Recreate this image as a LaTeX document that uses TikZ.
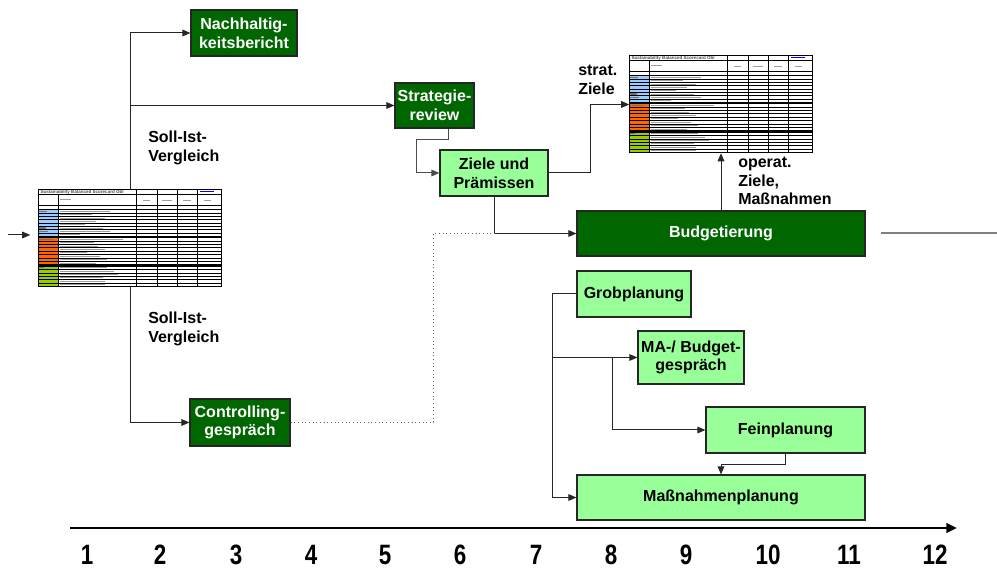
\documentclass[tikz,border=0pt]{standalone}
\usepackage{fontspec}
\setmainfont{Liberation Sans}
\usetikzlibrary{arrows.meta,calc}
\definecolor{dkgreen}{RGB}{0,102,0}
\definecolor{ltgreen}{RGB}{153,255,153}
\definecolor{tblue}{RGB}{153,204,255}
\definecolor{torange}{RGB}{255,102,0}
\definecolor{tgreen}{RGB}{153,204,0}
\tikzset{
 sz/.style 2 args={minimum width={#1*0.75pt}, minimum height={#2*0.75pt}},
 dkbox/.style={draw=black!85, line width=0.9pt, fill=dkgreen, text=white, font=\fontsize{12}{14}\selectfont\bfseries, align=center, inner sep=0pt},
 ltbox/.style={dkbox, fill=ltgreen, text=black},
 conn/.style={line width=0.75pt, draw=black!85, -{Triangle[length=6pt,width=5pt]}},
 lbl/.style={font=\fontsize{12}{14}\selectfont\bfseries, align=left, inner sep=0pt, anchor=west},
 axnum/.style={font=\fontsize{21}{24}\selectfont\bfseries, inner sep=0pt},
 tblframe/.style={inner sep=0pt, draw=none},
 txtbar/.style={draw=black!38, line width=0.8pt}
}
\newcommand\sbtable[1]{%
\begin{scope}[shift={(#1.north west)}]
 \fill[tblue] (0,20) rectangle (20,46.6);
 \fill[torange] (0,48) rectangle (20,75);
 \fill[tgreen] (0,76.5) rectangle (20,96.5);
 \foreach \i in {0,...,8} \draw[line width=0.55pt] (0,{20+\i*3.325}) -- (183,{20+\i*3.325});
 \foreach \i in {0,...,8} \draw[line width=0.55pt] (0,{48+\i*3.375}) -- (183,{48+\i*3.375});
 \foreach \i in {0,...,6} \draw[line width=0.55pt] (0,{76.5+\i*3.333}) -- (183,{76.5+\i*3.333});
 \fill[black] (0,46.6) rectangle (183,47.9);
 \fill[black] (0,75) rectangle (183,76.4);
 \foreach \i/\l in {0/55,1/35,2/50,3/40,4/28,5/48,6/55,7/22}
   \draw[txtbar] (22,{21.7+\i*3.325}) -- ({22+\l*0.9},{21.7+\i*3.325});
 \foreach \i/\l in {0/70,1/38,2/42,3/50,4/30,5/44,6/52,7/40}
   \draw[txtbar] (22,{49.7+\i*3.375}) -- ({22+\l*0.9},{49.7+\i*3.375});
 \foreach \i/\l in {0/52,1/60,2/64,3/48,4/50,5/50}
   \draw[txtbar] (22,{78.2+\i*3.333}) -- ({22+\l*0.9},{78.2+\i*3.333});
 \draw[black!55, line width=0.8pt] (1,21.7) -- (9,21.7) (1,38.3) -- (8,38.3) (1,41.6) -- (10,41.6) (1,49.7) -- (15,49.7) (1,78.2) -- (6,78.2);
 \draw[txtbar] (22,9.5) -- (33,9.5) (105,11) -- (112,11) (124,11) -- (134,11) (145,11) -- (153,11) (166,11) -- (173,11);
 \node[anchor=west, inner sep=0pt, text=black!70, font=\fontsize{3.4}{3.6}\selectfont\bfseries] at (2,2.3) {Sustainability Balanced Scorecard Obl};
 \draw[blue, line width=0.7pt] (162,1.6) -- (176,1.6);
 \draw[line width=0.8pt] (0,4.5) -- (183,4.5) (0,16) -- (183,16) (0,20) -- (183,20);
 \draw[line width=0.8pt] (20,4.5) -- (20,97);
 \foreach \x in {98,119,139,159} \draw[line width=0.9pt] (\x,0) -- (\x,97);
 \draw[line width=0.9pt] (0,0) rectangle (183,97);
\end{scope}}
\begin{document}
\begin{tikzpicture}[x=0.75pt,y=-0.75pt]
\fill[white] (0,0) rectangle (997,570);
\useasboundingbox (0,0) rectangle (997,570);
% tables
\node[tblframe, sz={183}{97}] (tblL) at (130,238.5) {};
\node[tblframe, sz={183}{97}] (tblR) at (721,104.5) {};
\sbtable{tblL}
\sbtable{tblR}
% boxes
\node[dkbox, sz={106}{46}] (nach) at (244,33) {Nachhaltig-\\keitsbericht};
\node[dkbox, sz={79}{45}] (strat) at (434.5,105.5) {Strategie-\\review};
\node[ltbox, sz={108}{46}] (ziele) at (494,173) {Ziele und\\Prämissen};
\node[dkbox, sz={288}{45}] (budget) at (721,233.5) {Budgetierung};
\node[ltbox, sz={114}{46}] (grob) at (634,294) {Grobplanung};
\node[ltbox, sz={106}{53}] (ma) at (691,357.5) {MA-/ Budget-\\gespräch};
\node[ltbox, sz={159}{46}] (fein) at (785.5,430) {Feinplanung};
\node[ltbox, sz={288}{45}] (mass) at (721,497.5) {Maßnahmenplanung};
\node[dkbox, sz={100}{47}] (ctrl) at (240,422.5) {Controlling-\\gespräch};
% labels
\node[lbl] (soll1) at (148,148) {Soll-Ist-\\Vergleich};
\node[lbl] (soll2) at (148,329) {Soll-Ist-\\Vergleich};
\node[lbl] (strz) at (578,80) {strat.\\Ziele};
\node[lbl] (opz) at (738,181) {operat.\\Ziele,\\Maßnahmen};
% connectors
\coordinate (inL) at (8,235);
\draw[conn, shorten >=6pt] (inL) -- (inL -| tblL.west);
\draw[conn] (tblL.north) |- (nach.west);
\draw[conn] (tblL.north |- strat.west) -- (strat.west);
\draw[conn] (tblL.south) |- (ctrl.west);
\draw[conn, draw=black!70] ($(strat.south)+(13.5,0)$) -- ++(0,11) -| ($(ziele.west)+(-23,0)$) -- (ziele.west);
\draw[conn] (ziele.south) |- (budget.west);
\draw[conn] (ziele.east) -- ++(42,0) |- (tblR.west);
\draw[conn] (budget.north) -- (tblR.south);
\coordinate (outR) at (997,233.5);
\draw[black!50, line width=1.5pt] ($(budget.east)+(15,0)$) -- (outR);
\draw[black!60, line width=0.75pt, dotted] (ctrl.east) -- ++(143,0) |- (ziele.south |- budget.west);
\coordinate (gl) at ($(grob.west)+(-24,0)$);
\coordinate (ml) at ($(ma.west)+(-25,0)$);
\draw[conn] (grob.west) -- (gl) |- (mass.west);
\draw[conn] (gl |- ma.west) -- (ma.west);
\draw[conn] (ml) |- (fein.west);
\draw[conn] (fein.south) -- ++(0,11) -| (mass.north);
% axis
\coordinate (ax0) at (70,528);
\coordinate (ax1) at (957,528);
\draw[line width=2.2pt, -{Triangle[length=8pt,width=7pt]}] (ax0) -- (ax1);
\foreach \n/\x in {1/87,2/160,3/236,4/311,5/385,6/460,7/536,8/611,9/686,10/768,11/849,12/935}
  \node[axnum] (num\n) at (\x,555) {\scalebox{0.8}[1]{\n}};
\end{tikzpicture}
\end{document}
